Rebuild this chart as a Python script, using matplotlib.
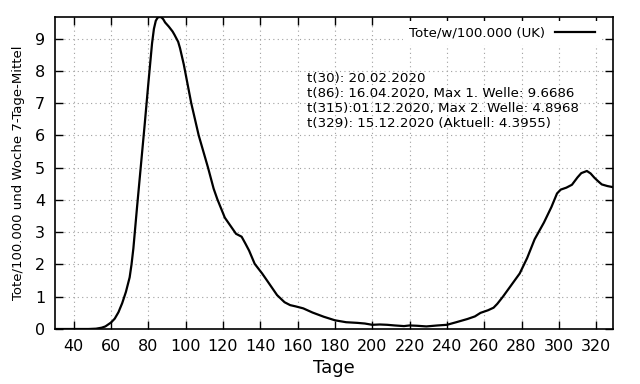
import numpy as np
import matplotlib.pyplot as plt

# Tage seit Beginn und Tote pro 100.000 / Woche (7-Tage-Mittel), UK
tage = [30, 40, 48, 52, 55, 57, 60, 62, 64, 66, 68, 70, 71, 72, 74, 76, 78, 80,
        82, 83, 84, 85, 86, 87, 88, 89, 91, 93, 94, 96, 97, 99, 100, 103, 107,
        112, 115, 117, 121, 124, 127, 130, 132, 134, 137, 141, 144, 149, 153,
        156, 159, 163, 168, 174, 180, 186, 192, 196, 200, 204, 208, 212, 217,
        220, 224, 229, 235, 240, 245, 251, 255, 258, 262, 265, 267, 270, 274,
        279, 283, 287, 292, 296, 299, 301, 304, 307, 310, 312, 315, 317, 319,
        321, 323, 326, 329]
tote = [0.0, 0.0, 0.0, 0.01, 0.04, 0.08, 0.2, 0.32, 0.52, 0.8, 1.15, 1.6, 2.0,
        2.5, 3.8, 5.05, 6.3, 7.6, 8.85, 9.3, 9.55, 9.65, 9.6686, 9.66, 9.6,
        9.5, 9.37, 9.22, 9.12, 8.9, 8.7, 8.2, 7.9, 7.0, 6.0, 5.0, 4.35, 4.02,
        3.45, 3.2, 2.95, 2.86, 2.65, 2.43, 2.02, 1.72, 1.47, 1.05, 0.83, 0.74,
        0.70, 0.64, 0.51, 0.38, 0.27, 0.21, 0.19, 0.17, 0.13, 0.14, 0.13, 0.11,
        0.09, 0.11, 0.10, 0.08, 0.11, 0.13, 0.21, 0.31, 0.39, 0.50, 0.58, 0.66,
        0.78, 1.0, 1.32, 1.72, 2.2, 2.78, 3.3, 3.78, 4.2, 4.32, 4.38, 4.47, 4.7,
        4.83, 4.8968, 4.82, 4.69, 4.58, 4.48, 4.43, 4.3955]

info = ['t(30): 20.02.2020',
        't(86): 16.04.2020, Max 1. Welle: 9.6686',
        't(315):01.12.2020, Max 2. Welle: 4.8968',
        't(329): 15.12.2020 (Aktuell: 4.3955)']

fig = plt.figure(figsize=(6.4, 3.84), dpi=100)
ax = fig.add_axes([55/640, 55/384, 558/640, 312/384])

ax.plot(tage, tote, color='black', lw=1.6, label='Tote/w/100.000 (UK)')

ax.set_xlim(30, 329)
ax.set_ylim(0, 9.6686)
ax.set_xticks(np.arange(40, 321, 20))
ax.set_yticks(np.arange(0, 10, 1))
ax.grid(True, color='#a0a0a0', linestyle=(0, (1, 3)), lw=0.8)
ax.tick_params(direction='in', top=True, right=True, length=6, width=1,
               labelsize=11.5, pad=7)
for s in ax.spines.values():
    s.set_linewidth(1.2)

ax.set_xlabel('Tage', fontsize=13, labelpad=4)
ax.set_ylabel('Tote/100.000 und Woche 7-Tage-Mittel', fontsize=9.5, labelpad=7)

leg = ax.legend(loc='upper right', markerfirst=False, fontsize=9.6,
                handlelength=3.0, frameon=True, fancybox=False,
                borderaxespad=0.3, bbox_to_anchor=(0.985, 1.0))
leg.get_frame().set_edgecolor('none')
leg.get_frame().set_facecolor('white')
leg.get_frame().set_alpha(1)

ax.text(0.4516, 0.825, '\n'.join(info), transform=ax.transAxes, fontsize=9.6,
        va='top', ha='left', linespacing=1.2)

plt.savefig('out.png', dpi=100)
